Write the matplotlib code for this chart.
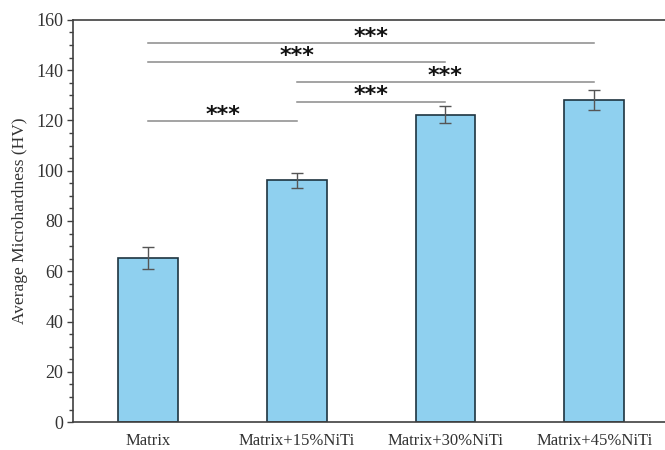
import matplotlib.pyplot as plt
import numpy as np
from matplotlib.ticker import MultipleLocator

# Data
groups = ['Matrix', 'Matrix+15%NiTi', 'Matrix+30%NiTi', 'Matrix+45%NiTi']
hardness = [65.3, 96.2, 122.3, 128.2]
errors = [4.5, 3.0, 3.5, 4.0]

# Significance brackets: (group i, group j, bar height, label)
sig_pairs = [(0, 3, 150.6, '***'),
             (0, 2, 143.2, '***'),
             (1, 3, 135.2, '***'),
             (1, 2, 127.5, '***'),
             (0, 1, 119.6, '***')]

fig = plt.figure(figsize=(6.65, 4.5), dpi=100)
ax = fig.add_axes([0.11, 0.062, 0.89, 0.894])

x = np.arange(len(groups))
ax.bar(x, hardness, width=0.4, color='#8fd0ef', edgecolor='#1e3440', linewidth=1.2, zorder=2)
ax.errorbar(x, hardness, yerr=errors, fmt='none', ecolor='#555555', elinewidth=1,
            capsize=4, capthick=1, zorder=3)

# significance lines with stars
for i, j, h, lab in sig_pairs:
    ax.plot([i, j], [h, h], color='#8a8a8a', linewidth=1.1, zorder=1)
    ax.text((i + j) / 2, h + 2.6, lab, ha='center', va='center', fontsize=16,
            fontweight='bold', family='DejaVu Sans', color='#111111')

ax.set_xlim(-0.505, 3.477)
ax.set_ylim(0, 160)
ax.set_xticks(x, groups)
ax.yaxis.set_major_locator(MultipleLocator(20))
ax.yaxis.set_minor_locator(MultipleLocator(5))
ax.tick_params(axis='x', length=0, pad=8)
ax.tick_params(axis='y', which='major', length=4, width=1, color='#404040', pad=3)
ax.tick_params(axis='y', which='minor', length=3, width=1, color='#404040')
for lab in ax.get_xticklabels():
    lab.set_fontfamily('Liberation Serif')
    lab.set_fontsize(12)
    lab.set_color('#333333')
for lab in ax.get_yticklabels():
    lab.set_fontfamily('Liberation Serif')
    lab.set_fontsize(13)
    lab.set_color('#333333')

ax.set_ylabel('Average Microhardness (HV)', family='Liberation Serif', fontsize=12.5,
              color='#333333', labelpad=6)

for side in ['left', 'bottom', 'top']:
    ax.spines[side].set_color('#404040')
    ax.spines[side].set_linewidth(1.2)
ax.spines['right'].set_visible(False)

plt.savefig('out.png', dpi=100)
plt.close(fig)
